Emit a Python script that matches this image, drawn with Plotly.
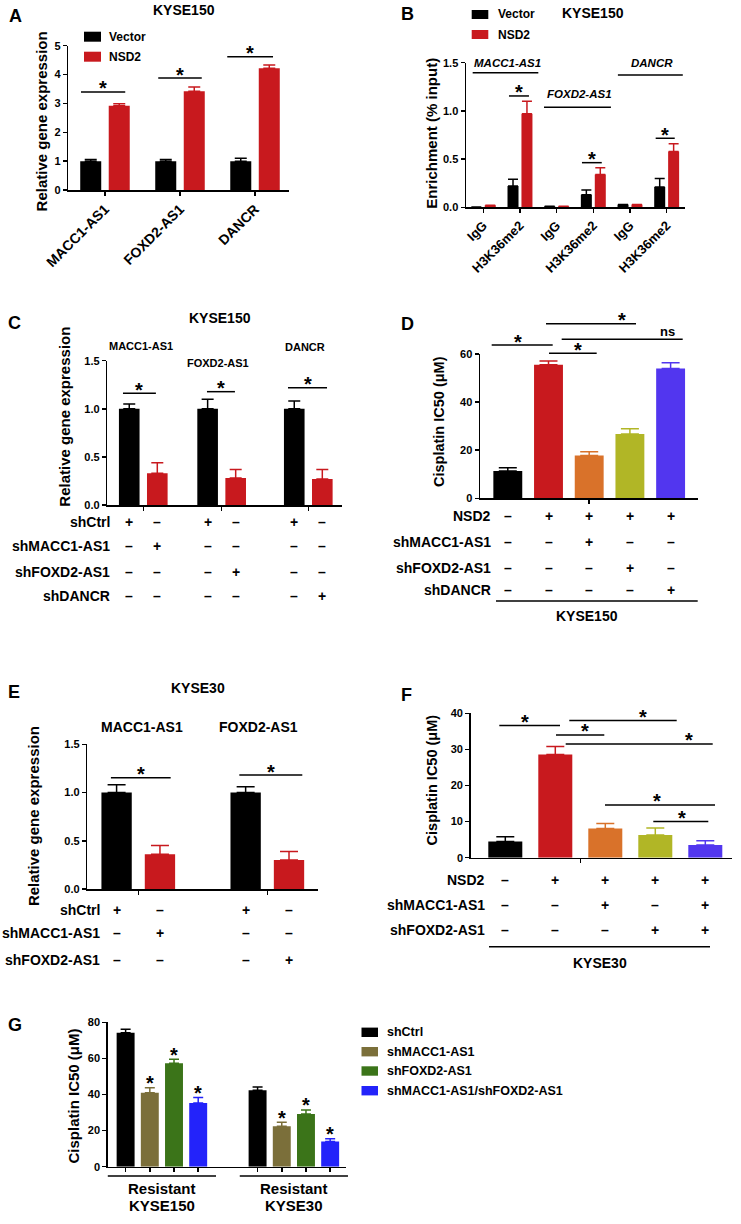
import plotly.graph_objects as go

W, H = 741, 1224
FONT = "Liberation Sans, Arial, Helvetica, sans-serif"
NARROW = "Liberation Sans Narrow, Arial Narrow, Liberation Sans, Arial, sans-serif"

# ---------------- data ----------------
# Panel A (KYSE150, relative expression)
a_genes = ["MACC1-AS1", "FOXD2-AS1", "DANCR"]
a_vector = [1.0, 1.0, 1.0]
a_vector_err = [0.06, 0.06, 0.10]
a_nsd2 = [2.92, 3.42, 4.22]
a_nsd2_err = [0.07, 0.15, 0.11]

# Panel B (ChIP enrichment)
b_genes = ["MACC1-AS1", "FOXD2-AS1", "DANCR"]
b_categories = ["IgG", "H3K36me2", "IgG", "H3K36me2", "IgG", "H3K36me2"]
b_vector = [0.004, 0.22, 0.01, 0.13, 0.03, 0.21]
b_vector_err = [0, 0.07, 0, 0.05, 0, 0.09]
b_nsd2 = [0.02, 0.97, 0.01, 0.34, 0.03, 0.58]
b_nsd2_err = [0, 0.13, 0, 0.07, 0, 0.08]

# Panel C (KYSE150 knockdown)
c_genes = ["MACC1-AS1", "FOXD2-AS1", "DANCR"]
c_shctrl = [1.0, 1.0, 1.0]
c_shctrl_err = [0.05, 0.10, 0.08]
c_shrna = [0.33, 0.28, 0.27]
c_shrna_err = [0.11, 0.09, 0.10]
c_rows = ["shCtrl", "shMACC1-AS1", "shFOXD2-AS1", "shDANCR"]
c_table = [["+", "–", "+", "–", "+", "–"],
           ["–", "+", "–", "–", "–", "–"],
           ["–", "–", "–", "+", "–", "–"],
           ["–", "–", "–", "–", "–", "+"]]

# Panel D (KYSE150 cisplatin IC50)
d_ic50 = [11.3, 55.5, 17.8, 26.7, 54.0]
d_err = [1.4, 1.6, 1.6, 2.2, 2.4]
d_rows = ["NSD2", "shMACC1-AS1", "shFOXD2-AS1", "shDANCR"]
d_table = [["–", "+", "+", "+", "+"],
           ["–", "–", "+", "–", "–"],
           ["–", "–", "–", "+", "–"],
           ["–", "–", "–", "–", "+"]]

# Panel E (KYSE30 knockdown)
e_genes = ["MACC1-AS1", "FOXD2-AS1"]
e_shctrl = [1.0, 1.0]
e_shctrl_err = [0.08, 0.06]
e_shrna = [0.36, 0.30]
e_shrna_err = [0.09, 0.09]
e_rows = ["shCtrl", "shMACC1-AS1", "shFOXD2-AS1"]
e_table = [["+", "–", "+", "–"],
           ["–", "+", "–", "–"],
           ["–", "–", "–", "+"]]

# Panel F (KYSE30 cisplatin IC50)
f_ic50 = [4.5, 28.6, 8.1, 6.3, 3.5]
f_err = [1.3, 2.2, 1.4, 1.9, 1.2]
f_rows = ["NSD2", "shMACC1-AS1", "shFOXD2-AS1"]
f_table = [["–", "+", "+", "+", "+"],
           ["–", "–", "+", "–", "+"],
           ["–", "–", "–", "+", "+"]]

# Panel G (resistant lines)
g_groups = [["Resistant", "KYSE150"], ["Resistant", "KYSE30"]]
g_series = ["shCtrl", "shMACC1-AS1", "shFOXD2-AS1", "shMACC1-AS1/shFOXD2-AS1"]
g_shctrl = [74.2, 42.3]
g_shctrl_err = [2.0, 1.9]
g_shmacc1 = [41.0, 22.4]
g_shmacc1_err = [2.8, 2.2]
g_shfoxd2 = [57.3, 29.2]
g_shfoxd2_err = [2.2, 2.2]
g_double = [35.3, 13.9]
g_double_err = [3.1, 1.6]

# ---------------- styles ----------------
RED = "#c8191e"
BLACK = "#000000"
D_COLORS = ["#000000", "#c8191e", "#d9722a", "#b1b626", "#5236ef"]
G_COLORS = ["#000000", "#7b6f3a", "#3b7419", "#2323fa"]
TICKFONT = dict(family=FONT, size=11, color="black", weight="bold")
STAR = 20

fig = go.Figure()
shapes, annots = [], []
PAN = {}
axes_layout = {}


def make_panel(n, box, xr, yr, xtickvals, ytickvals, yticktext, xticktext=None,
               xangle=0, xfont=None, yfont=None):
    l, t, r, b = box
    PAN[n] = dict(box=box, xr=xr, yr=yr)
    s = "" if n == 1 else str(n)
    base = dict(showline=True, linecolor="black", linewidth=1.5, ticks="outside",
                ticklen=4, tickwidth=1.5, tickcolor="black", showgrid=False,
                zeroline=False, fixedrange=True, automargin=False)
    axes_layout["xaxis" + s] = dict(base, domain=[l / W, r / W], range=xr, anchor="y" + s,
                                    tickmode="array", tickvals=xtickvals,
                                    ticktext=xticktext if xticktext else [""] * len(xtickvals),
                                    showticklabels=bool(xticktext), tickangle=xangle,
                                    tickfont=xfont or TICKFONT)
    axes_layout["yaxis" + s] = dict(base, domain=[1 - b / H, 1 - t / H], range=yr, anchor="x" + s,
                                    tickmode="array", tickvals=ytickvals, ticktext=yticktext,
                                    tickfont=yfont or TICKFONT)


def d2px(n, xv, yv):
    p = PAN[n]
    l, t, r, b = p["box"]
    x0, x1 = p["xr"]
    y0, y1 = p["yr"]
    return l + (xv - x0) / (x1 - x0) * (r - l), b - (yv - y0) / (y1 - y0) * (b - t)


def hline_px(x0, x1, y, w=1.5):
    shapes.append(dict(type="line", xref="paper", yref="paper", x0=x0 / W, x1=x1 / W,
                       y0=1 - y / H, y1=1 - y / H, line=dict(color="black", width=w)))


def rect_px(x0, y0, x1, y1, color):
    shapes.append(dict(type="rect", xref="paper", yref="paper", x0=x0 / W, x1=x1 / W,
                       y0=1 - y1 / H, y1=1 - y0 / H, fillcolor=color, line=dict(width=0)))


def text_px(x, y, s, size, family=FONT, bold=True, xanchor="center", yanchor="middle",
            angle=0, italic=False, yshift=0):
    annots.append(dict(x=x / W, y=1 - y / H, xref="paper", yref="paper", text=s,
                       showarrow=False, xanchor=xanchor, yanchor=yanchor, textangle=angle,
                       yshift=yshift,
                       font=dict(size=size, family=family, color="black",
                                 weight="bold" if bold else "normal",
                                 style="italic" if italic else "normal")))


def sig(n, y, x0, x1, label="*", xs=None):
    X0, Y = d2px(n, x0, y)
    X1, _ = d2px(n, x1, y)
    hline_px(X0, X1, Y)
    xm = d2px(n, xs if xs is not None else (x0 + x1) / 2, y)[0]
    if label == "*":
        text_px(xm, Y - 3.5, label, STAR)
    else:
        text_px(xm, Y - 7.6, label, 13)


def star_above(n, xv, top, size=STAR, gap=5.4):
    X, Y = d2px(n, xv, top + gap)
    text_px(X, Y + 5, "*", size)


def add_bars(n, xs, ys, err, color, width, cap):
    s = "" if n == 1 else str(n)
    fig.add_trace(go.Bar(x=xs, y=ys, width=width, marker=dict(color=color, line=dict(width=0)),
                         error_y=dict(type="data", array=err, arrayminus=[0] * len(err),
                                      symmetric=False, color=color, thickness=1.5, width=cap),
                         xaxis="x" + s, yaxis="y" + s, showlegend=False, hoverinfo="skip"))


def table(n, xs_data, rows, tab, ys_px, label_right, label_size=14, sym_size=14):
    for name, syms, ypx in zip(rows, tab, ys_px):
        text_px(label_right, ypx, name, label_size, xanchor="right")
        for xv, sym in zip(xs_data, syms):
            X, _ = d2px(n, xv, 0)
            text_px(X, ypx, sym, sym_size)


def ytitle(x, y, s, size=15, family=FONT):
    text_px(x, y, s, size, family=family, angle=-90)


# ================= Panel A =================
make_panel(1, (68.3, 45.7, 289, 190), [-0.489, 2.453], [0, 5],
           [0, 1, 2], [0, 1, 2, 3, 4, 5], ["0", "1", "2", "3", "4", "5"],
           xticktext=a_genes, xangle=-45,
           xfont=dict(family=FONT, size=14, color="black", weight="bold"))
xa = list(range(len(a_genes)))
add_bars(1, [i - 0.19 for i in xa], a_vector, a_vector_err, BLACK, 0.28, 6)
add_bars(1, [i + 0.19 for i in xa], a_nsd2, a_nsd2_err, RED, 0.28, 6)
for (yv, x0, x1) in [(3.40, -0.32, 0.27), (3.88, 0.71, 1.29), (4.62, 1.63, 2.24)]:
    sig(1, yv, x0, x1)
text_px(15, 16, "A", 18)
text_px(183.7, 10, "KYSE150", 14)
rect_px(84, 31.7, 101, 41.7, BLACK)
rect_px(84, 51.7, 101, 61.7, RED)
text_px(107.3, 36.7, "Vector", 12, xanchor="left")
text_px(107.3, 56.7, "NSD2", 12, xanchor="left")
ytitle(41.7, 121.7, "Relative gene expression")

# ================= Panel B =================
make_panel(2, (466, 62.7, 685, 207.3), [-0.472, 5.5], [0, 1.5],
           list(range(6)), [0, 0.5, 1.0, 1.5], ["0.0", "0.5", "1.0", "1.5"],
           xticktext=b_categories, xangle=-45,
           xfont=dict(family=FONT, size=13, color="black", weight="bold"))
xb = list(range(len(b_categories)))
add_bars(2, [i - 0.19 for i in xb], b_vector, b_vector_err, BLACK, 0.3, 5)
add_bars(2, [i + 0.19 for i in xb], b_nsd2, b_nsd2_err, RED, 0.3, 5)
for (yv, x0, x1) in [(1.155, 0.70, 1.245), (0.463, 2.69, 3.23), (0.716, 4.70, 5.22)]:
    sig(2, yv, x0, x1)
for gname, (ly, lx0, lx1, ty) in zip(b_genes, [(1.396, -0.29, 1.50, 1.497),
                                              (1.037, 1.655, 3.48, 1.175),
                                              (1.372, 3.67, 5.44, 1.497)]):
    X0, Y = d2px(2, lx0, ly)
    X1, _ = d2px(2, lx1, ly)
    hline_px(X0, X1, Y)
    _, TY = d2px(2, 0, ty)
    text_px((X0 + X1) / 2 + 2, TY, gname, 11.5, italic=True)
text_px(407, 14.5, "B", 18)
text_px(593.3, 13.3, "KYSE150", 14)
rect_px(471.7, 10, 488.3, 19, BLACK)
rect_px(471.7, 30, 488.3, 39, RED)
text_px(496, 14.5, "Vector", 12, xanchor="left")
text_px(496, 34.5, "NSD2", 12, xanchor="left")
ytitle(430.7, 133, "Enrichment (% input)")

# ================= Panel C =================
c_pos = [0, 0.95, 2.0]
make_panel(3, (107.3, 360.7, 341.7, 505), [-0.436, 2.405], [0, 1.5],
           c_pos, [0, 0.5, 1.0, 1.5], ["0.0", "0.5", "1.0", "1.5"])
add_bars(3, [p - 0.17 for p in c_pos], c_shctrl, c_shctrl_err, BLACK, 0.25, 6)
add_bars(3, [p + 0.17 for p in c_pos], c_shrna, c_shrna_err, RED, 0.25, 6)
for (yv, x0, x1) in [(1.161, -0.246, 0.153), (1.178, 0.772, 1.111), (1.219, 1.754, 2.227)]:
    sig(3, yv, x0, x1)
for gname, (gx, gy) in zip(c_genes, [(141, 346), (218, 363), (305, 347)]):
    text_px(gx, gy, gname, 11)
text_px(14.5, 323.3, "C", 18)
text_px(220, 318, "KYSE150", 14)
ytitle(65, 416.7, "Relative gene expression")
c_cols = []
for p in c_pos:
    c_cols += [p - 0.17, p + 0.17]
table(3, c_cols, c_rows, c_table, [522, 546, 572, 596], 111.7)

# ================= Panel D =================
xd = list(range(len(d_ic50)))
make_panel(4, (480, 354, 698, 498.3), [-0.683, 4.673], [0, 60],
           [2], [0, 20, 40, 60], ["0", "20", "40", "60"])
for i in xd:
    add_bars(4, [i], [d_ic50[i]], [d_err[i]], D_COLORS[i], 0.71, 9)
sig(4, 63.7, -0.396, 1.103, xs=0.243)
sig(4, 72.6, 0.939, 3.15, xs=2.8)
sig(4, 60.3, 1.012, 2.184, xs=1.72)
sig(4, 66.1, 1.324, 4.297, label="ns", xs=3.93)
text_px(407.3, 323.7, "D", 18)
ytitle(438.3, 421.7, "Cisplatin IC50 (μM)", 14.5)
table(4, xd, d_rows, d_table, [516, 542.3, 568.3, 590], 492.7)
hline_px(496, 697.7, 601)
text_px(586.7, 616, "KYSE150", 14)

# ================= Panel E =================
xe = list(range(len(e_genes)))
make_panel(5, (87.3, 744.3, 318.3, 889), [-0.395, 1.395], [0, 1.5],
           xe, [0, 0.5, 1.0, 1.5], ["0.0", "0.5", "1.0", "1.5"])
add_bars(5, [i - 0.168 for i in xe], e_shctrl, e_shctrl_err, BLACK, 0.235, 9)
add_bars(5, [i + 0.168 for i in xe], e_shrna, e_shrna_err, RED, 0.235, 9)
sig(5, 1.153, -0.212, 0.251)
sig(5, 1.181, 0.783, 1.271)
for gname, gx in zip(e_genes, [141.7, 258.3]):
    text_px(gx, 726.7, gname, 14)
text_px(13.7, 691.7, "E", 18)
text_px(198.3, 688.3, "KYSE30", 14)
ytitle(33.3, 815.8, "Relative gene expression")
e_cols = []
for i in xe:
    e_cols += [i - 0.168, i + 0.168]
table(5, e_cols, e_rows, e_table, [910, 933.3, 960], 101.7)

# ================= Panel F =================
xf = list(range(len(f_ic50)))
make_panel(6, (470.7, 713.3, 731.7, 857.7), [-0.692, 4.528], [0, 40],
           [1.5], [0, 10, 20, 30, 40], ["0", "10", "20", "30", "40"])
for i in xf:
    add_bars(6, [i], [f_ic50[i]], [f_err[i]], D_COLORS[i], 0.68, 9)
sig(6, 36.6, -0.12, 1.094, xs=0.394)
sig(6, 38.0, 1.28, 3.428, xs=2.76)
sig(6, 34.0, 1.014, 1.98, xs=1.594)
sig(6, 31.5, 1.208, 4.148, xs=3.674)
sig(6, 14.6, 1.994, 4.194, xs=3.028)
sig(6, 10.0, 2.96, 4.06, xs=3.528)
text_px(406.5, 695, "F", 18)
ytitle(431.7, 779.7, "Cisplatin IC50 (μM)", 14.5)
table(6, xf, f_rows, f_table, [880, 905, 930], 486.7)
hline_px(489, 710, 946.7)
text_px(600, 962.7, "KYSE30", 14)

# ================= Panel G =================
g_offs = [-0.275, -0.0917, 0.0917, 0.275]
xg = list(range(len(g_groups)))
g_vals = [g_shctrl, g_shmacc1, g_shfoxd2, g_double]
g_errs = [g_shctrl_err, g_shmacc1_err, g_shfoxd2_err, g_double_err]
g_ticks = sorted([g + o for g in xg for o in g_offs])
make_panel(7, (107.8, 1022.3, 346, 1166.7), [-0.41, 1.395], [0, 80],
           g_ticks, [0, 20, 40, 60, 80], ["0", "20", "40", "60", "80"],
           yfont=dict(family=NARROW, size=11, color="black", weight="bold"))
for k in range(len(g_series)):
    add_bars(7, [g + g_offs[k] for g in xg], g_vals[k], g_errs[k], G_COLORS[k], 0.136, 5)
    if k > 0:
        for g in xg:
            star_above(7, g + g_offs[k], g_vals[k][g] + g_errs[k][g])
for g, (l1, l2) in zip(xg, g_groups):
    X0, _ = d2px(7, g - 0.41, 0)
    X1, _ = d2px(7, g + 0.41, 0)
    hline_px(X0, X1, 1176)
    Xm = (X0 + X1) / 2
    text_px(Xm, 1188, l1, 15, family=NARROW)
    text_px(Xm, 1205, l2, 15, family=NARROW)
for k, name in enumerate(g_series):
    yy = [1032.3, 1051.7, 1071, 1090.7][k]
    rect_px(361.5, yy - 4.7, 378, yy + 4.7, G_COLORS[k])
    text_px(385, yy, name, 12.5, family=NARROW, xanchor="left")
text_px(15, 1025, "G", 18, family=NARROW)
ytitle(73.7, 1095.8, "Cisplatin IC50 (μM)", 15)

fig.update_layout(template="none", width=W, height=H, margin=dict(l=0, r=0, t=0, b=0, pad=0),
                  paper_bgcolor="white", plot_bgcolor="white", barmode="overlay",
                  showlegend=False, shapes=shapes, annotations=annots,
                  font=dict(family=FONT, color="black"), **axes_layout)
fig.write_html("out.html", config={"displayModeBar": False, "staticPlot": True},
               post_script="document.body.style.margin='0px';"
                           "document.body.style.overflow='hidden';")
